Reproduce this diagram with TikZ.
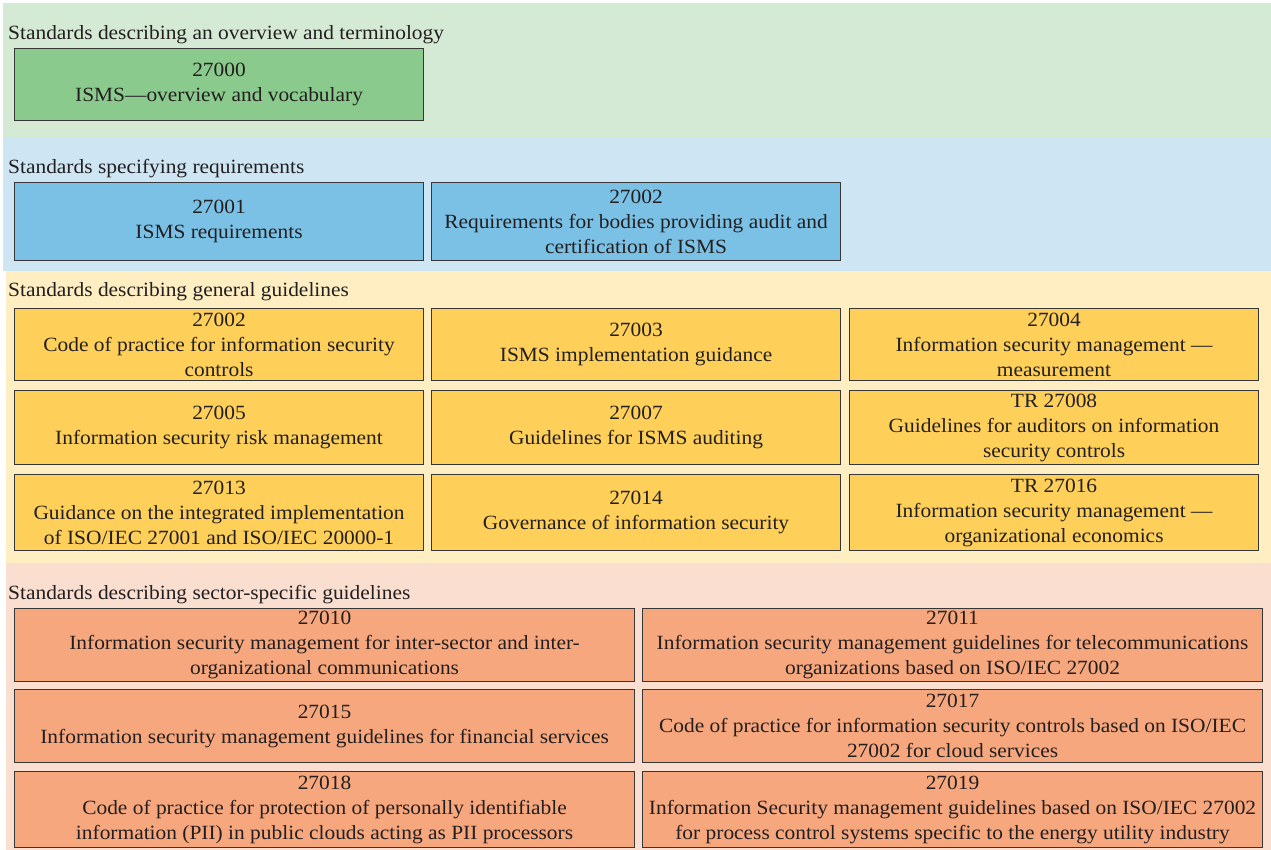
\documentclass[tikz,border=0pt]{standalone}
\usepackage{fontspec}
\setmainfont[FakeStretch=1.06]{Liberation Serif}
\definecolor{inkgray}{RGB}{35,31,32}
\definecolor{edgegray}{RGB}{55,55,55}
\definecolor{bandgreen}{RGB}{213,234,213}
\definecolor{boxgreen}{RGB}{138,202,140}
\definecolor{bandblue}{RGB}{206,230,243}
\definecolor{boxblue}{RGB}{123,193,229}
\definecolor{bandyellow}{RGB}{254,238,194}
\definecolor{boxyellow}{RGB}{254,208,90}
\definecolor{bandorange}{RGB}{250,222,208}
\definecolor{boxorange}{RGB}{246,167,125}
\begin{document}
\begin{tikzpicture}[x=1pt,y=-1pt,
	heading/.style={anchor=base west,inner sep=0pt,text=inkgray,font=\fontsize{20.2}{25}\selectfont},
	stdbox/.style={draw=edgegray,line width=1.1pt,anchor=north west,inner sep=0pt,align=center,text=inkgray,font=\fontsize{20.2}{25}\selectfont},
	narrowbox/.style={stdbox,minimum width=409pt},
	widebox/.style={stdbox,minimum width=620pt}]
	\useasboundingbox (0,0) rectangle (1271,850);
	% bands
	\fill[bandgreen] (3,3) rectangle (1271,137);
	\fill[bandblue] (3,137) rectangle (1271,271);
	\fill[bandyellow] (6,271) rectangle (1271,563);
	\fill[bandorange] (6,563) rectangle (1271,850);
	% overview and terminology
	\node[heading](h_overview) at (8,40){Standards describing an overview and terminology};
	\node[narrowbox,fill=boxgreen,minimum height=72pt](s27000) at (14,48){27000\\ISMS---overview and vocabulary};
	% requirements
	\node[heading](h_require) at (8,174){Standards specifying requirements};
	\node[narrowbox,fill=boxblue,minimum height=78pt](s27001) at (14,182){27001\\ISMS requirements};
	\node[narrowbox,fill=boxblue,minimum height=78pt](s27002r) at (431,182){27002\\Requirements for bodies providing audit and\\certification of ISMS};
	% general guidelines
	\node[heading](h_general) at (8,297){Standards describing general guidelines};
	\node[narrowbox,fill=boxyellow,minimum height=72pt](s27002g) at (14,308){27002\\Code of practice for information security\\controls};
	\node[narrowbox,fill=boxyellow,minimum height=72pt](s27003) at (431,308){27003\\ISMS implementation guidance};
	\node[narrowbox,fill=boxyellow,minimum height=72pt](s27004) at (849,308){27004\\Information security management ---\\measurement};
	\node[narrowbox,fill=boxyellow,minimum height=74pt](s27005) at (14,390){27005\\Information security risk management};
	\node[narrowbox,fill=boxyellow,minimum height=74pt](s27007) at (431,390){27007\\Guidelines for ISMS auditing};
	\node[narrowbox,fill=boxyellow,minimum height=74pt](s27008) at (849,390){TR 27008\\Guidelines for auditors on information\\security controls};
	\node[narrowbox,fill=boxyellow,minimum height=76pt](s27013) at (14,474){27013\\Guidance on the integrated implementation\\of ISO/IEC 27001 and ISO/IEC 20000-1};
	\node[narrowbox,fill=boxyellow,minimum height=76pt](s27014) at (431,474){27014\\Governance of information security};
	\node[narrowbox,fill=boxyellow,minimum height=76pt](s27016) at (849,474){TR 27016\\Information security management ---\\organizational economics};
	% sector-specific guidelines
	\node[heading](h_sector) at (8,599){Standards describing sector-specific guidelines};
	\node[widebox,fill=boxorange,minimum height=73pt](s27010) at (14,608){27010\\Information security management for inter-sector and inter-\\organizational communications};
	\node[widebox,fill=boxorange,minimum height=73pt](s27011) at (642,608){27011\\Information security management guidelines for telecommunications\\organizations based on ISO/IEC 27002};
	\node[widebox,fill=boxorange,minimum height=73pt](s27015) at (14,689){27015\\Information security management guidelines for financial services};
	\node[widebox,fill=boxorange,minimum height=73pt](s27017) at (642,689){27017\\Code of practice for information security controls based on ISO/IEC\\27002 for cloud services};
	\node[widebox,fill=boxorange,minimum height=76pt](s27018) at (14,771){27018\\Code of practice for protection of personally identifiable\\information (PII) in public clouds acting as PII processors};
	\node[widebox,fill=boxorange,minimum height=76pt](s27019) at (642,771){27019\\Information Security management guidelines based on ISO/IEC 27002\\for process control systems specific to the energy utility industry};
\end{tikzpicture}
\end{document}
